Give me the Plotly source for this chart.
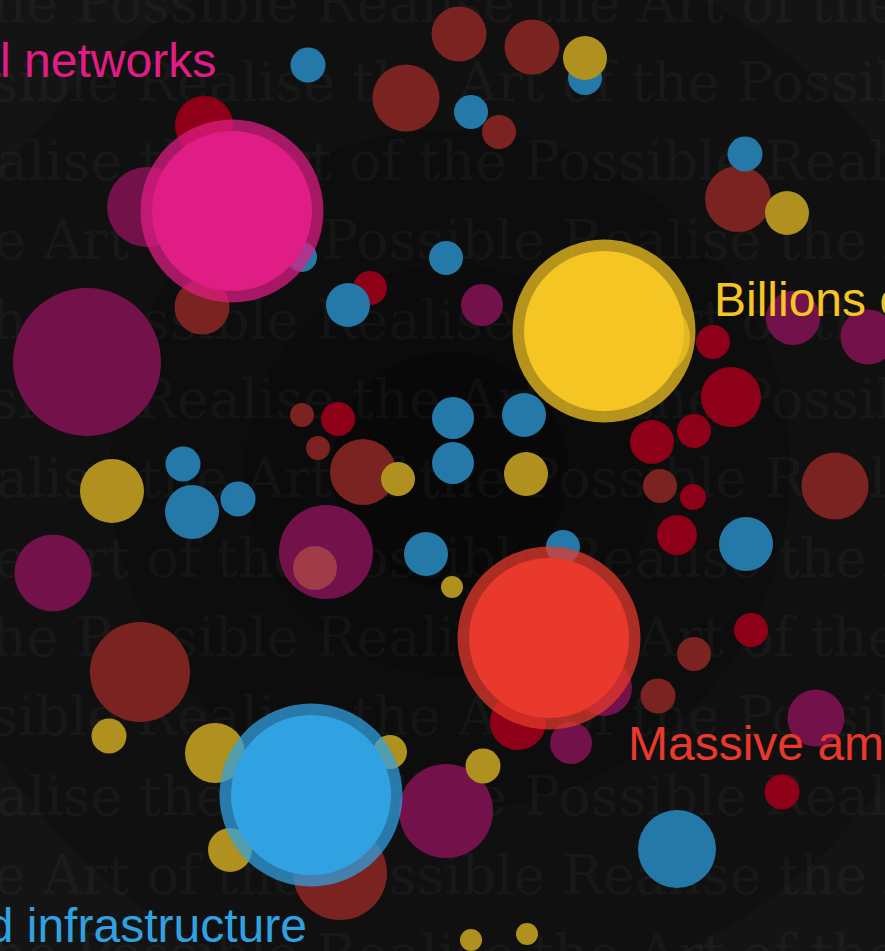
import plotly.graph_objects as go

W, H = 885, 951

# ---------------- data (pixel space: x to the right, y downward) ----------------
brown_x = [459, 532, 406, 499, 738, 202, 302, 318, 363, 660, 835, 140, 694, 658, 340]
brown_y = [34, 47, 98, 132, 199, 307, 415, 448, 472, 486, 486, 672, 654, 696, 873]
brown_d = [55, 55, 67, 34, 66, 55, 24, 24, 66, 34, 67, 100, 34, 35, 94]

crimson_x = [204, 370, 338, 713, 731, 694, 652, 693, 677, 751, 518, 782]
crimson_y = [125, 288, 419, 342, 397, 431, 442, 497, 535, 630, 722, 792]
crimson_d = [58, 34, 34, 34, 60, 34, 44, 26, 40, 34, 56, 35]

magenta_x = [147, 87, 482, 793, 868, 53, 326, 604, 571, 816, 446]
magenta_y = [207, 362, 305, 318, 337, 573, 552, 688, 743, 718, 811]
magenta_d = [80, 148, 42, 54, 55, 77, 94, 56, 42, 57, 94]

blue_x = [308, 585, 471, 745, 302, 446, 348, 453, 524, 453, 183, 192, 238, 426, 563, 746, 677]
blue_y = [65, 78, 112, 154, 257, 258, 305, 418, 415, 463, 464, 512, 499, 554, 547, 544, 849]
blue_d = [35, 34, 34, 35, 30, 34, 44, 42, 44, 42, 35, 54, 35, 44, 34, 54, 78]

gold_x = [585, 787, 650, 526, 398, 112, 452, 109, 215, 390, 230, 483, 471, 527]
gold_y = [58, 213, 338, 474, 479, 491, 587, 736, 753, 752, 850, 766, 940, 934]
gold_d = [44, 44, 80, 44, 34, 64, 22, 35, 60, 34, 44, 35, 22, 22]

salmon_x = [315]
salmon_y = [568]
salmon_d = [44]

big_labels = ["Social networks", "Billions of devices", "Massive amounts of data", "Cloud infrastructure"]
big_x = [232, 604, 549, 311]
big_y = [211, 331, 638, 795]
big_colors = ["#e01d84", "#f5c623", "#e8392c", "#30a2e2"]

label_x = [218, 712, 626, 309]
label_baseline = [76, 315, 759, 941]
label_anchor = ["right", "left", "left", "right"]

watermark_phrase = "Realise the Art of the Possible "
watermark_starts = ["the Possible ", "ossible ", "alise the Art of the Possible ", "e Art of the Possible "]
watermark_x0 = [-30, -70, -4, -6]
watermark_rows_y = [8 + 79.3 * i for i in range(13)]

# ---------------- figure ----------------
fig = go.Figure()

# watermark text rows
wm_x, wm_y, wm_t = [], [], []
for i, yy in enumerate(watermark_rows_y):
    k = i % 4
    wm_x.append(watermark_x0[k])
    wm_y.append(yy)
    wm_t.append(watermark_starts[k] + watermark_phrase * 3)
fig.add_trace(go.Scatter(
    x=wm_x, y=wm_y, text=wm_t, mode="text", textposition="middle right",
    textfont=dict(family="DejaVu Serif", size=54,
                  color="rgba(255,255,255,0.036)"),
    hoverinfo="skip", showlegend=False))


def bubbles(xs, ys, ds, color, opacity=1.0):
    fig.add_trace(go.Scatter(
        x=xs, y=ys, mode="markers", hoverinfo="skip", showlegend=False,
        marker=dict(size=ds, sizemode="diameter", color=color, opacity=opacity,
                    line=dict(width=0))))


bubbles(brown_x, brown_y, brown_d, "#7a2320")
bubbles(crimson_x, crimson_y, crimson_d, "#8e0018")
bubbles(magenta_x, magenta_y, magenta_d, "#73124a")
bubbles(blue_x, blue_y, blue_d, "#2479a8")
bubbles(gold_x, gold_y, gold_d, "#b0901e")
bubbles(salmon_x, salmon_y, salmon_d, "#a03c48")

# big bubbles: translucent outer ring + opaque core
for i in range(len(big_x)):
    bubbles([big_x[i]], [big_y[i]], [183], big_colors[i], opacity=0.73)
for i in range(len(big_x)):
    bubbles([big_x[i]], [big_y[i]], [160], big_colors[i])

# labels
for i, lab in enumerate(big_labels):
    fig.add_annotation(
        x=label_x[i], y=label_baseline[i] - 16, xref="x", yref="y",
        text=lab, showarrow=False, xanchor=label_anchor[i], yanchor="middle",
        font=dict(family="Liberation Sans, Arial", size=48, color=big_colors[i]))

# background radial shading
cx, cy = 450, 470
shapes = []
for r, c in [(535, "#101010"), (340, "#0d0d0d"), (205, "#0b0b0b"), (118, "#080808")]:
    shapes.append(dict(type="circle", xref="x", yref="y", x0=cx - r, x1=cx + r,
                       y0=cy - r, y1=cy + r, fillcolor=c, line=dict(width=0),
                       layer="below"))

fig.update_layout(
    width=W, height=H, autosize=False,
    margin=dict(l=0, r=0, t=0, b=0, pad=0),
    paper_bgcolor="#141414", plot_bgcolor="rgba(0,0,0,0)",
    xaxis=dict(range=[0, W], visible=False, fixedrange=True),
    yaxis=dict(range=[H, 0], visible=False, fixedrange=True),
    shapes=shapes, showlegend=False)

fig.write_html("out.html", config={"displayModeBar": False},
               post_script="document.body.style.margin='0';document.body.style.overflow='hidden';")
